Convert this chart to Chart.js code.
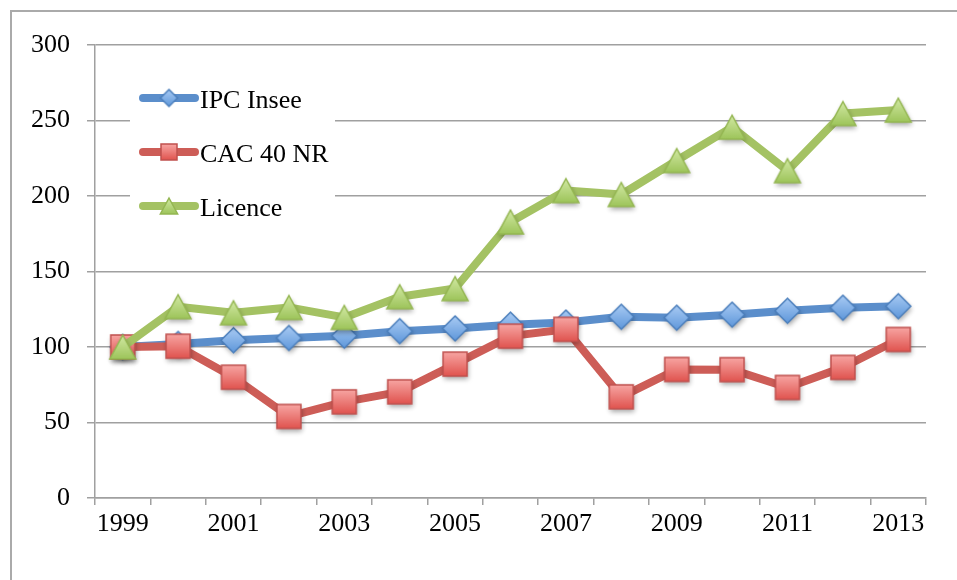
<!DOCTYPE html>
<html>
<head>
<meta charset="utf-8">
<script src="https://cdn.jsdelivr.net/npm/chart.js@4"></script>
<style>
    body { margin: 0; background: #ffffff; }
    #wrap { width: 957px; height: 580px; }
</style>
</head>
<body>
<div id="wrap"><canvas id="chart" width="957" height="580"></canvas></div>
<script>
const years = ["1999", "2000", "2001", "2002", "2003", "2004", "2005", "2006",
    "2007", "2008", "2009", "2010", "2011", "2012", "2013"];

const ipcInsee = [100, 102, 104.5, 106, 107.5, 110.5, 112.3, 114.8,
    116.2, 120, 119.4, 121.4, 124, 126, 127];

const cac40NR = [100, 100.5, 80, 54, 63.7, 70.3, 88.7, 107.2,
    111.7, 67, 85.1, 85, 73.2, 86.5, 105];

const licence = [100, 126.7, 122.7, 126.2, 119.6, 133.3, 138.7, 182.8,
    203.6, 201, 223.5, 245.6, 216.8, 254.6, 256.9];

const seriesNames = ["IPC Insee", "CAC 40 NR", "Licence"];

const FONT = "'Liberation Serif', 'Times New Roman', serif";
const FONT_SIZE = 26;

function shapePath(ctx, shape, cx, cy, size)
{
    const h = size / 2;

    ctx.beginPath();

    if(shape === "diamond")
    {
        ctx.moveTo(cx, cy - h);
        ctx.lineTo(cx + h, cy);
        ctx.lineTo(cx, cy + h);
        ctx.lineTo(cx - h, cy);
    }
    else if(shape === "square")
    {
        ctx.rect(cx - h, cy - h, size, size);
    }
    else
    {
        ctx.moveTo(cx, cy - h);
        ctx.lineTo(cx + h * 1.08, cy + h);
        ctx.lineTo(cx - h * 1.08, cy + h);
    }

    ctx.closePath();
}

// small canvases used as point images (gradient + soft shadow)
function makeMarker(shape, size, top, bottom, stroke, shadow)
{
    const pad = 10;
    const c = document.createElement("canvas");

    c.width = size + pad * 2;
    c.height = size + pad * 2;

    const ctx = c.getContext("2d");
    const cx = c.width / 2;
    const cy = c.height / 2;

    const grad = ctx.createLinearGradient(0, cy - size / 2, 0, cy + size / 2);
    grad.addColorStop(0, top);
    grad.addColorStop(1, bottom);

    if(shadow)
    {
        ctx.save();
        ctx.shadowColor = "rgba(0,0,0,0.35)";
        ctx.shadowBlur = 5;
        ctx.shadowOffsetY = 3;
        ctx.shadowOffsetX = 1;
        shapePath(ctx, shape, cx, cy, size);
        ctx.fillStyle = grad;
        ctx.fill();
        ctx.restore();
    }

    shapePath(ctx, shape, cx, cy, size);
    ctx.fillStyle = grad;
    ctx.fill();
    ctx.lineWidth = 1.5;
    ctx.strokeStyle = stroke;
    ctx.stroke();

    return c;
}

const styles = [
    { line: "#5B8ECB", shape: "diamond", size: 25, top: "#A9CBF4", bottom: "#5E97DA", stroke: "#4A7EBB" },
    { line: "#CD5D57", shape: "square", size: 24, top: "#F7A5A2", bottom: "#E0534E", stroke: "#C0504D" },
    { line: "#A4C263", shape: "triangle", size: 24, top: "#D2E9A4", bottom: "#9DC45A", stroke: "#94B652" }
];

const pointImages =
    styles.map(s => makeMarker(s.shape, s.size, s.top, s.bottom, s.stroke, true));

const legendImages =
    styles.map(s => makeMarker(s.shape, Math.round(s.size * 0.66), s.top, s.bottom, s.stroke, false));

const legendBox =
{
    id: "legendBox",
    afterDatasetsDraw(chart)
    {
        const ctx = chart.ctx;
        const rows = [98, 152, 206];

        ctx.save();
        ctx.fillStyle = "#ffffff";
        ctx.fillRect(130, 80, 205, 150);

        rows.forEach((y, i) =>
        {
            ctx.strokeStyle = styles[i].line;
            ctx.lineWidth = 8;
            ctx.lineCap = "round";
            ctx.beginPath();
            ctx.moveTo(143, y);
            ctx.lineTo(195, y);
            ctx.stroke();

            const img = legendImages[i];
            ctx.drawImage(img, 169 - img.width / 2, y - img.height / 2);

            ctx.fillStyle = "#000000";
            ctx.font = FONT_SIZE + "px " + FONT;
            ctx.textBaseline = "middle";
            ctx.textAlign = "left";
            ctx.fillText(seriesNames[i], 200, y + 3);
        });

        ctx.restore();
    }
};

const frame =
{
    id: "frame",
    afterDraw(chart)
    {
        const ctx = chart.ctx;

        ctx.save();
        ctx.strokeStyle = "#AAAAAA";
        ctx.lineWidth = 2;
        ctx.beginPath();
        ctx.moveTo(11, 580);
        ctx.lineTo(11, 11);
        ctx.lineTo(957, 11);
        ctx.stroke();
        ctx.restore();
    }
};

const datasets = [ipcInsee, cac40NR, licence].map((values, i) =>
({
    label: seriesNames[i],
    data: values,
    borderColor: styles[i].line,
    backgroundColor: styles[i].line,
    borderWidth: 8,
    borderCapStyle: "round",
    borderJoinStyle: "round",
    pointStyle: pointImages[i],
    pointRadius: 12,
    tension: 0,
    order: 2 - i
}));

new Chart(
    document.getElementById("chart"),
    {
        type: "line",
        data:
        {
            labels: years,
            datasets
        },
        options:
        {
            responsive: false,
            animation: false,
            events: [],
            layout:
            {
                padding: { left: 0, right: 31, top: 45, bottom: 0 }
            },
            plugins:
            {
                legend: { display: false },
                tooltip: { enabled: false }
            },
            scales:
            {
                x:
                {
                    offset: true,
                    afterFit: scale => { scale.height = 82; },
                    grid:
                    {
                        offset: true,
                        drawOnChartArea: false,
                        drawTicks: true,
                        tickLength: 7,
                        color: "#A0A0A0",
                        lineWidth: 1.5
                    },
                    border: { display: true, color: "#A0A0A0", width: 1.5 },
                    ticks:
                    {
                        autoSkip: false,
                        maxRotation: 0,
                        padding: 4,
                        color: "#000000",
                        font: { family: FONT, size: FONT_SIZE },
                        callback: (value, index) => index % 2 === 0 ? years[index] : ""
                    }
                },
                y:
                {
                    min: 0,
                    max: 300,
                    afterFit: scale => { scale.width = 95; },
                    grid:
                    {
                        color: "#A0A0A0",
                        lineWidth: 1.5,
                        tickLength: 8
                    },
                    border: { display: true, color: "#A0A0A0", width: 1.5 },
                    ticks:
                    {
                        stepSize: 50,
                        padding: 17,
                        color: "#000000",
                        font: { family: FONT, size: FONT_SIZE }
                    }
                }
            }
        },
        plugins: [legendBox, frame]
    }
);
</script>
</body>
</html>
